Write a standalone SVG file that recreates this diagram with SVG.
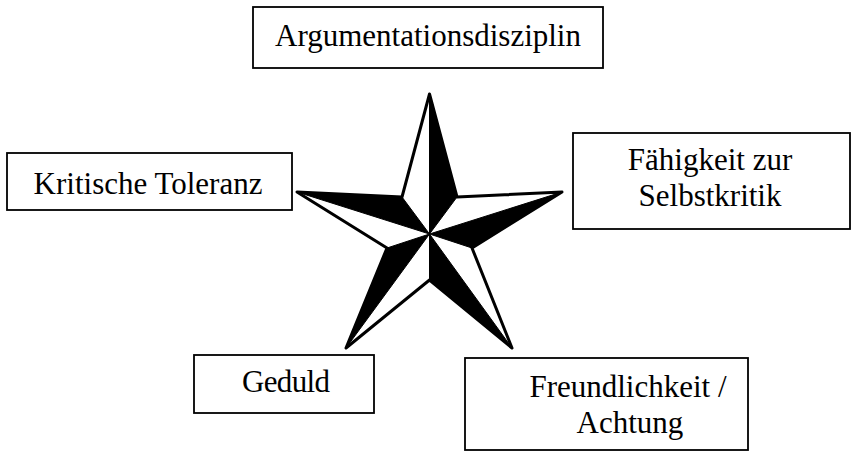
<svg xmlns="http://www.w3.org/2000/svg" width="853" height="453" viewBox="0 0 853 453">
  <style>
    .box rect { fill: #fff; stroke: #000; stroke-width: 1.8; }
    .box text { font-family: "Liberation Serif", "DejaVu Serif", serif; font-size: 31px; fill: #000; text-anchor: middle; }
    .dark { fill: #000; stroke: #000; stroke-width: 1; stroke-linejoin: round; }
  </style>
  <rect width="853" height="453" fill="#fff"/>

  <!-- five-pointed star, each ray split into a light and a dark half -->
  <g id="star">
    <polygon points="429.5,94 457,197 562,192 472,248 512,348 429.5,280 346,348 387,248 297,192 402,197" fill="#fff" stroke="#000" stroke-width="3" stroke-linejoin="round"/>
    <polygon class="dark" points="429.5,234 429.5,94 457,197"/>
    <polygon class="dark" points="429.5,234 562,192 472,248"/>
    <polygon class="dark" points="429.5,234 512,348 429.5,280"/>
    <polygon class="dark" points="429.5,234 346,348 387,248"/>
    <polygon class="dark" points="429.5,234 297,192 402,197"/>
  </g>

  <g id="argumentationsdisziplin" class="box">
    <rect x="253" y="7" width="350" height="61"/>
    <text x="428" y="46">Argumentationsdisziplin</text>
  </g>

  <g id="kritische-toleranz" class="box">
    <rect x="7" y="153" width="285" height="57"/>
    <text x="148" y="194">Kritische Toleranz</text>
  </g>

  <g id="selbstkritik" class="box">
    <rect x="573" y="133" width="277" height="96"/>
    <text x="710" y="170">Fähigkeit zur</text>
    <text x="710" y="206">Selbstkritik</text>
  </g>

  <g id="geduld" class="box">
    <rect x="194" y="355" width="180" height="58"/>
    <text x="286" y="392" textLength="88">Geduld</text>
  </g>

  <g id="freundlichkeit" class="box">
    <rect x="465" y="358" width="283" height="92"/>
    <text x="628" y="397">Freundlichkeit /</text>
    <text x="630" y="433">Achtung</text>
  </g>

  <g id="connectors"/>
</svg>
